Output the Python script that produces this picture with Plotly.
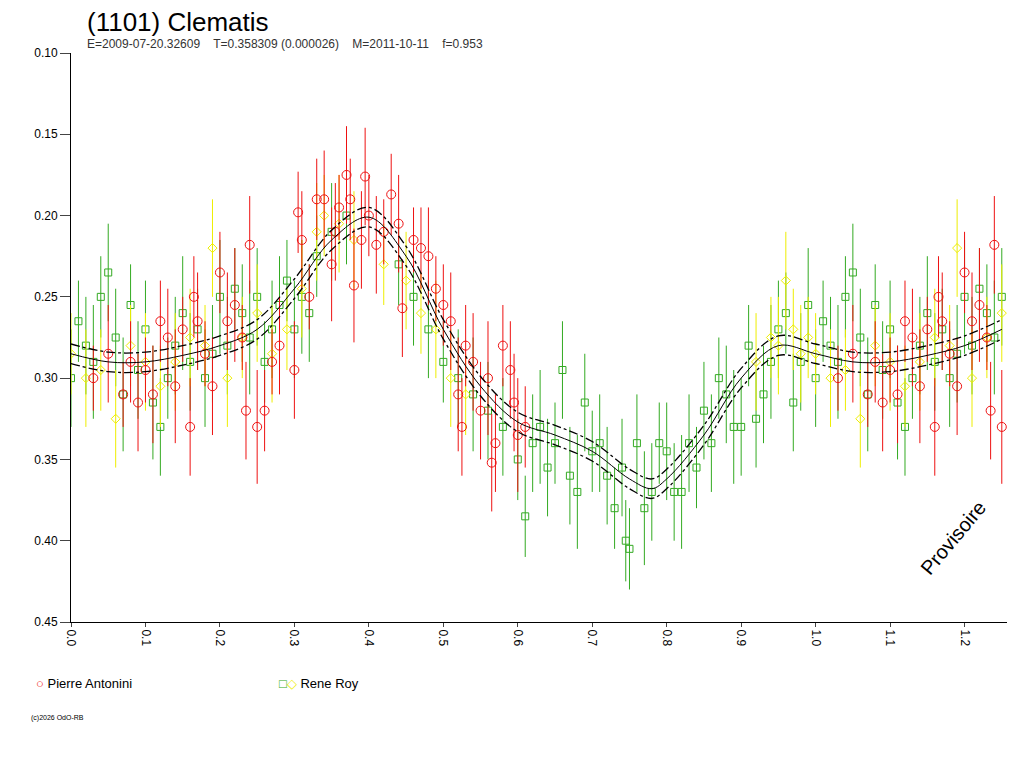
import plotly.graph_objects as go

# 位相（phase）と等級（magnitude）のデータ
red_phase = [0.03,0.05,0.07,0.08,0.09,0.10,0.11,0.12,0.13,0.14,0.15,0.16,0.165,0.17,0.18,0.19,0.20,0.21,0.22,0.23,0.235,0.24,0.25,0.26,0.27,0.28,0.30,0.305,0.31,0.32,0.33,0.34,0.35,0.355,0.36,0.37,0.375,0.38,0.39,0.395,0.40,0.41,0.42,0.43,0.44,0.445,0.46,0.47,0.48,0.49,0.50,0.51,0.52,0.525,0.53,0.54,0.55,0.56,0.565,0.57,0.58,0.59,0.595,0.60,0.61]
red_mag = [0.30,0.285,0.31,0.29,0.315,0.295,0.31,0.265,0.275,0.305,0.27,0.33,0.25,0.265,0.285,0.305,0.235,0.265,0.255,0.275,0.32,0.218,0.33,0.32,0.29,0.28,0.295,0.198,0.215,0.25,0.19,0.19,0.23,0.21,0.195,0.175,0.19,0.243,0.215,0.176,0.20,0.218,0.21,0.187,0.205,0.257,0.215,0.22,0.225,0.245,0.255,0.265,0.31,0.33,0.28,0.29,0.32,0.30,0.352,0.34,0.28,0.295,0.315,0.335,0.33]
red_err = [0.02,0.03,0.02,0.025,0.03,0.02,0.03,0.025,0.03,0.035,0.02,0.03,0.025,0.03,0.02,0.03,0.025,0.03,0.035,0.02,0.03,0.03,0.035,0.025,0.02,0.03,0.03,0.025,0.03,0.02,0.025,0.03,0.035,0.03,0.02,0.03,0.025,0.035,0.03,0.03,0.025,0.03,0.02,0.025,0.03,0.03,0.02,0.025,0.03,0.02,0.025,0.03,0.035,0.03,0.025,0.03,0.03,0.035,0.03,0.03,0.025,0.03,0.03,0.035,0.025]

green_phase = [0.00,0.01,0.02,0.03,0.04,0.05,0.06,0.07,0.08,0.09,0.10,0.11,0.12,0.13,0.14,0.15,0.16,0.17,0.18,0.19,0.20,0.21,0.22,0.23,0.24,0.25,0.26,0.27,0.28,0.29,0.30,0.31,0.32,0.33,0.35,0.37,0.44,0.46,0.48,0.50,0.52,0.54,0.56,0.58,0.60,0.61,0.62,0.63,0.64,0.65,0.66,0.67,0.68,0.69,0.70,0.71,0.72,0.73,0.74,0.745,0.75,0.76,0.77,0.78,0.79,0.80,0.81,0.82,0.83,0.84,0.85,0.86,0.87,0.88,0.89,0.90,0.91,0.92,0.93,0.94,0.95,0.96,0.97,0.98,0.99]
green_mag = [0.30,0.265,0.28,0.29,0.25,0.235,0.275,0.31,0.255,0.295,0.27,0.315,0.33,0.30,0.28,0.26,0.29,0.27,0.30,0.285,0.25,0.28,0.245,0.26,0.275,0.25,0.29,0.27,0.255,0.24,0.27,0.25,0.26,0.225,0.21,0.20,0.23,0.25,0.27,0.29,0.30,0.31,0.32,0.33,0.35,0.385,0.34,0.33,0.355,0.34,0.295,0.36,0.37,0.315,0.345,0.34,0.36,0.38,0.355,0.40,0.405,0.34,0.38,0.37,0.34,0.345,0.37,0.37,0.34,0.355,0.32,0.34,0.30,0.31,0.33,0.33,0.28,0.325,0.31,0.29,0.27,0.26,0.315,0.29,0.255]
green_err = [0.03,0.025,0.03,0.035,0.025,0.03,0.03,0.035,0.025,0.03,0.03,0.035,0.03,0.025,0.03,0.035,0.03,0.025,0.03,0.03,0.035,0.03,0.025,0.03,0.035,0.03,0.025,0.03,0.03,0.025,0.03,0.035,0.03,0.025,0.03,0.03,0.025,0.03,0.03,0.025,0.03,0.035,0.03,0.03,0.025,0.025,0.03,0.035,0.03,0.025,0.03,0.03,0.035,0.03,0.025,0.03,0.03,0.025,0.03,0.025,0.025,0.03,0.035,0.03,0.025,0.03,0.03,0.035,0.03,0.025,0.03,0.03,0.025,0.03,0.035,0.03,0.025,0.03,0.03,0.035,0.03,0.025,0.03,0.03,0.035]

yellow_phase = [0.00,0.02,0.04,0.06,0.08,0.10,0.12,0.14,0.16,0.18,0.19,0.21,0.23,0.25,0.27,0.29,0.31,0.33,0.34,0.36,0.38,0.42,0.45,0.47,0.49,0.51,0.53,0.92,0.94,0.95,0.96,0.97,0.98,0.99]
yellow_mag = [0.285,0.30,0.295,0.325,0.28,0.29,0.305,0.29,0.275,0.28,0.22,0.30,0.275,0.26,0.285,0.27,0.245,0.21,0.20,0.205,0.215,0.23,0.24,0.26,0.27,0.30,0.31,0.29,0.275,0.28,0.24,0.27,0.285,0.275]
yellow_err = [0.025,0.03,0.025,0.03,0.025,0.03,0.025,0.03,0.03,0.025,0.03,0.03,0.025,0.03,0.03,0.025,0.03,0.03,0.025,0.03,0.03,0.025,0.03,0.025,0.03,0.03,0.025,0.03,0.025,0.03,0.03,0.025,0.03,0.025]

# フィット曲線（fit curve）
fit_phase = [0.00,0.05,0.10,0.15,0.20,0.25,0.30,0.35,0.40,0.45,0.50,0.55,0.60,0.65,0.70,0.75,0.78,0.80,0.85,0.90,0.95,1.00,1.05,1.10,1.15,1.20,1.25]
fit_mag = [0.285,0.29,0.29,0.286,0.28,0.27,0.245,0.215,0.201,0.225,0.27,0.305,0.327,0.335,0.345,0.362,0.368,0.362,0.335,0.30,0.28,0.285,0.29,0.29,0.286,0.28,0.27]
fit_sigma = 0.006

def wrap(ph, mag, err, limit=0.26):
    # 位相0〜0.26の点を1.0ずらして繰り返す
    p = list(ph) + [x + 1 for x in ph if x < limit]
    m = list(mag) + [y for x, y in zip(ph, mag) if x < limit]
    e = list(err) + [y for x, y in zip(ph, err) if x < limit]
    return p, m, e

fig = go.Figure()
for ph, mag, err, col, sym in [(green_phase, green_mag, green_err, "#33aa22", "square-open"),
                               (yellow_phase, yellow_mag, yellow_err, "#eeee00", "diamond-open"),
                               (red_phase, red_mag, red_err, "#ee1111", "circle-open")]:
    p, m, e = wrap(ph, mag, err)
    fig.add_trace(go.Scatter(x=p, y=m, mode="markers",
                             marker=dict(symbol=sym, color=col, size=9 if sym == "circle-open" else 7, line=dict(width=1)),
                             error_y=dict(type="data", array=e, color=col, thickness=1, width=0)))

fig.add_trace(go.Scatter(x=fit_phase, y=fit_mag, mode="lines", line=dict(color="black", width=1, shape="spline")))
for s in (-1, 1):
    fig.add_trace(go.Scatter(x=fit_phase, y=[v + s * fit_sigma for v in fit_mag], mode="lines",
                             line=dict(color="black", width=1.3, dash="dashdot", shape="spline")))

fig.update_layout(
    width=1024, height=768, showlegend=False,
    plot_bgcolor="white", paper_bgcolor="white",
    margin=dict(l=63, r=25, t=45, b=154),
    font=dict(family="Liberation Sans", size=12, color="black"),
    xaxis=dict(range=[0, 1.257], tickvals=[i / 10 for i in range(13)],
               ticktext=["0.0", "0.1", "0.2", "0.3", "0.4", "0.5", "0.6", "0.7", "0.8", "0.9", "1.0", "1.1", "1.2"],
               tickangle=90, ticks="outside", ticklen=4, showgrid=False, zeroline=False,
               showline=True, linecolor="black"),
    yaxis=dict(range=[0.45, 0.10], tickvals=[0.10, 0.15, 0.20, 0.25, 0.30, 0.35, 0.40, 0.45],
               ticktext=["0.10", "0.15", "0.20", "0.25", "0.30", "0.35", "0.40", "0.45"],
               ticks="outside", ticklen=10, showgrid=False, zeroline=False,
               showline=True, linecolor="black"),
)
fig.add_annotation(text="(1101) Clematis", xref="paper", yref="paper", x=0.015, y=1.0, yshift=14,
                   xanchor="left", yanchor="bottom", showarrow=False, font=dict(size=26))
fig.add_annotation(text="E=2009-07-20.32609    T=0.358309 (0.000026)    M=2011-10-11    f=0.953",
                   xref="paper", yref="paper", x=0.015, y=1.0, xanchor="left", yanchor="bottom",
                   showarrow=False, font=dict(size=12, color="#333333"))
fig.add_annotation(text="Provisoire", xref="paper", yref="paper", x=0.985, y=0.07, textangle=-50,
                   showarrow=False, font=dict(size=20))
fig.add_annotation(text="<span style='color:#ee1111'>○</span> Pierre Antonini", xref="paper", yref="paper",
                   x=-0.04, y=-0.125, xanchor="left", showarrow=False, font=dict(size=13))
fig.add_annotation(text="<span style='color:#33aa22'>□</span><span style='color:#eeee00'>◇</span> Rene Roy",
                   xref="paper", yref="paper", x=0.22, y=-0.125, xanchor="left", showarrow=False, font=dict(size=13))
fig.add_annotation(text="(c)2026 OdO-RB", xref="paper", yref="paper", x=-0.045, y=-0.18,
                   xanchor="left", showarrow=False, font=dict(size=7))

fig.write_html("out.html")
